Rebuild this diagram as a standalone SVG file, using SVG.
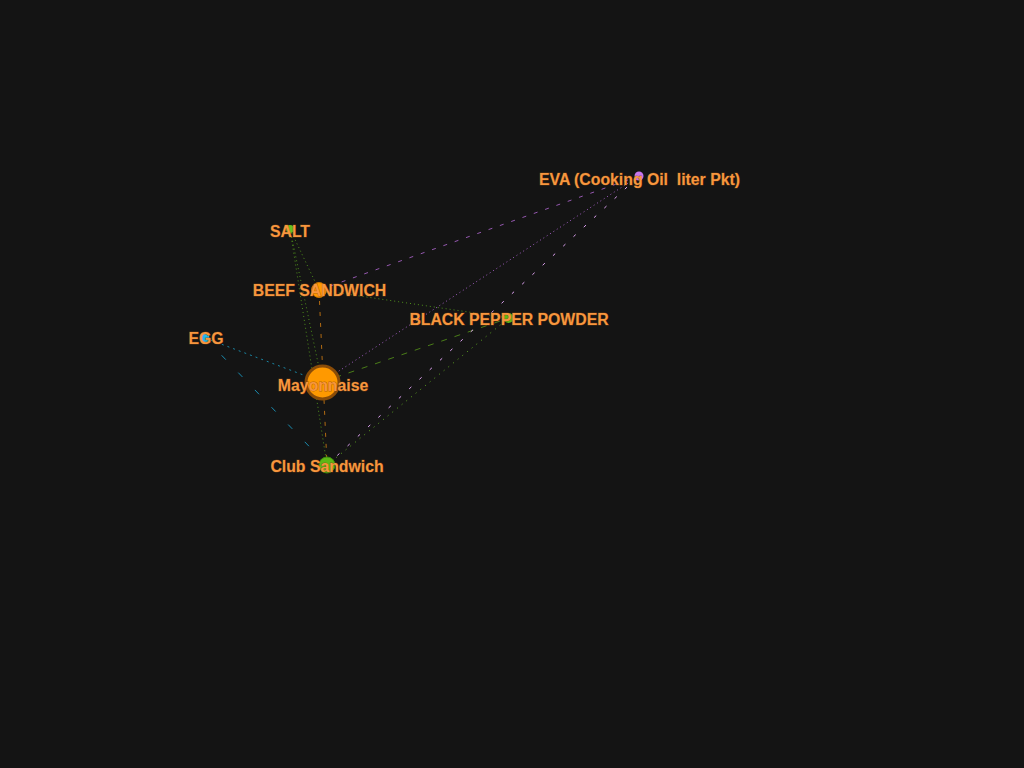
<svg xmlns="http://www.w3.org/2000/svg" width="1024" height="768" viewBox="0 0 1024 768">
<style>
.lbl{font-family:"Liberation Sans",Arial,sans-serif;font-weight:bold;font-size:15.8px;fill:#f7963e;text-anchor:middle;white-space:pre;stroke:#7a4210;stroke-opacity:0.6;stroke-width:0.9;paint-order:stroke}
.e{fill:none;stroke-width:1}
.gdot{stroke:#4f8f1c;stroke-dasharray:1 3}
.gdash{stroke:#4a7d18;stroke-dasharray:6 8}
.gdot2{stroke:#5fa822;stroke-dasharray:1 5}
.pdot{stroke:#a05ec0;stroke-dasharray:1 3}
.pdash{stroke:#9558b0;stroke-dasharray:4 8}
.pink{stroke:#e0a4f4;stroke-dasharray:3 11}
.odash{stroke:#b06a12;stroke-dasharray:4 7}
.cdot{stroke:#1a86a4;stroke-dasharray:2 4}
.cdash{stroke:#1a8cb0;stroke-dasharray:6 18}
</style>
<rect width="1024" height="768" fill="#141414"/>
<g id="connectors">
<line class="e gdot" x1="290" y1="229" x2="319" y2="290"/>
<line class="e gdot" x1="290" y1="229" x2="322" y2="382"/>
<line class="e gdot" x1="290" y1="229" x2="327" y2="465"/>
<line class="e gdot" x1="319" y1="290" x2="509" y2="318"/>
<line class="e pdash" x1="319" y1="290" x2="639" y2="176"/>
<line class="e odash" x1="319" y1="290" x2="327" y2="465"/>
<line class="e cdot" x1="205" y1="338" x2="322" y2="382"/>
<line class="e cdash" x1="205" y1="338" x2="327" y2="465"/>
<line class="e pdot" x1="322" y1="382" x2="639" y2="176"/>
<line class="e gdash" x1="322" y1="382" x2="509" y2="318"/>
<line class="e pink" x1="327" y1="465" x2="639" y2="176"/>
<line class="e gdot2" x1="327" y1="465" x2="509" y2="318"/>
</g>
<g id="node-salt"><circle cx="290" cy="229" r="4" fill="#66c21e"/><text class="lbl" x="290" y="237">SALT</text></g>
<g id="node-beef"><circle cx="319" cy="290" r="7.5" fill="#ff9900" stroke="#c87400" stroke-width="1"/><text class="lbl" x="319.5" y="296">BEEF SANDWICH</text></g>
<g id="node-egg"><circle cx="205" cy="338" r="4.5" fill="#22b8ec"/><text class="lbl" x="206" y="344">EGG</text></g>
<g id="node-mayo"><circle cx="322.5" cy="382.5" r="16.5" fill="#ff9900" stroke="#8a4c08" stroke-width="3"/><text class="lbl" x="323" y="391">Mayonnaise</text></g>
<g id="node-club"><circle cx="327" cy="465" r="8" fill="#5cb816" stroke="#3e8a0e" stroke-width="1"/><text class="lbl" x="327" y="472">Club Sandwich</text></g>
<g id="node-pepper"><circle cx="508.5" cy="318" r="5" fill="#5cb816"/><text class="lbl" x="509" y="325">BLACK PEPPER POWDER</text></g>
<g id="node-eva"><circle cx="639" cy="176" r="4.5" fill="#c876ee"/><text class="lbl" x="639.5" y="185">EVA (Cooking Oil  liter Pkt)</text></g>
</svg>
